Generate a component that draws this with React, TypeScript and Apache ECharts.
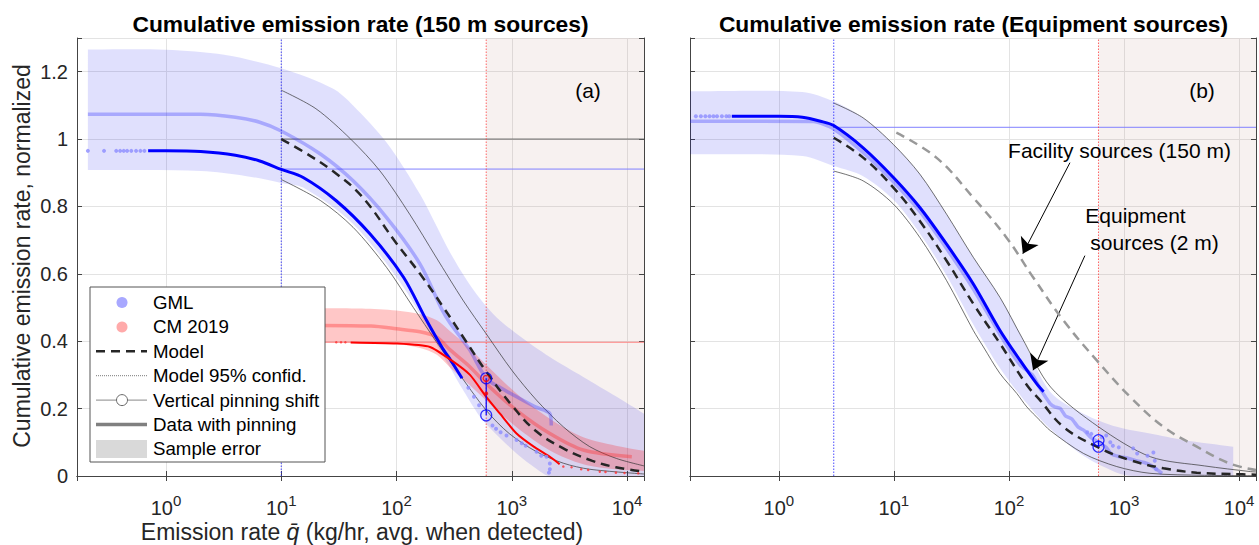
import React, { useEffect, useRef } from "react";
import * as echarts from "echarts";

type P = [number, number];

// ---------- axes ----------
const X_MIN = 0.169;
const X_MAX = 14030;
const Y_MAX = 1.3;
const Y_STEP = 0.2;
const X_DECADES = [0, 1, 2, 3, 4];
const PIN_Q = 600;

const titles = [
  "Cumulative emission rate (150 m sources)",
  "Cumulative emission rate (Equipment sources)",
];
const panelTags = ["(a)", "(b)"];
const yLabel = "Cumulative emission rate, normalized";
const legendLabels = [
  "GML",
  "CM 2019",
  "Model",
  "Model 95% confid.",
  "Vertical pinning shift",
  "Data with pinning",
  "Sample error",
];

// ---------- panel (a): 150 m sources ----------
const bandA_hi: P[] = [[0.21, 1.266], [1, 1.265], [3.2, 1.25], [10, 1.21], [28, 1.15], [42, 1.1], [82, 0.99], [160, 0.836], [290, 0.665], [448, 0.56], [690, 0.481], [1100, 0.422], [2140, 0.353], [4170, 0.294], [8130, 0.235], [14030, 0.185]];
const bandA_lo: P[] = [[0.21, 0.908], [2, 0.905], [5, 0.89], [10, 0.87], [15.5, 0.856], [42, 0.748], [115, 0.56], [220, 0.393], [290, 0.323], [380, 0.254], [560, 0.166], [1100, 0.067], [1860, 0.008], [2100, 0], [14030, 0]];
const modelA: P[] = [[10, 1.0], [16, 0.96], [28, 0.905], [50, 0.83], [100, 0.69], [160, 0.6], [250, 0.505], [400, 0.4], [600, 0.31], [1000, 0.21], [1600, 0.135], [2800, 0.082], [5000, 0.045], [8000, 0.026], [14030, 0.013]];
const confHiA: P[] = [[10, 1.145], [20, 1.09], [40, 1.0], [72, 0.905], [130, 0.777], [220, 0.65], [380, 0.52], [600, 0.422], [1000, 0.314], [1640, 0.225], [2800, 0.146], [4750, 0.087], [8100, 0.052], [14030, 0.03]];
const confLoA: P[] = [[10, 0.88], [22, 0.817], [42, 0.738], [82, 0.619], [140, 0.5], [220, 0.4], [330, 0.315], [600, 0.195], [950, 0.126], [1640, 0.072], [2800, 0.038], [4750, 0.02], [14030, 0.006]];
const gmlA: P[] = [[0.7, 0.965], [1, 0.965], [2, 0.963], [4, 0.952], [6.5, 0.935], [10, 0.91], [15.5, 0.886], [30, 0.817], [59, 0.718], [115, 0.59], [182, 0.462], [250, 0.38], [300, 0.34], [370, 0.29]];
const gmlDotsA: P[] = [[0.21, 0.965], [0.29, 0.965], [0.37, 0.965], [0.4, 0.965], [0.43, 0.965], [0.46, 0.965], [0.5, 0.965], [0.55, 0.965], [0.6, 0.965], [0.65, 0.965], [420, 0.262], [470, 0.235], [520, 0.21], [680, 0.15], [730, 0.14], [800, 0.13], [900, 0.12], [1100, 0.107], [1220, 0.097], [1320, 0.09], [1640, 0.072], [1800, 0.06], [2000, 0.057], [2140, 0.037], [2140, 0.02], [2100, 0.01]];
const gmlPinA: P[] = [[0.21, 1.074], [2, 1.074], [4, 1.065], [6.5, 1.05], [10, 1.024], [22, 0.955], [42, 0.876], [82, 0.767], [160, 0.629], [250, 0.491], [290, 0.455], [430, 0.375], [600, 0.29], [800, 0.262], [1100, 0.235], [1600, 0.205], [2140, 0.185], [2200, 0.15]];
const cmBandA_hi: P[] = [[22, 0.498], [50, 0.497], [100, 0.491], [160, 0.48], [224, 0.462], [290, 0.43], [430, 0.38], [600, 0.33], [1100, 0.245], [2140, 0.17], [4170, 0.115], [8000, 0.09], [14030, 0.075]];
const cmBandA_lo: P[] = [[22, 0.397], [50, 0.396], [100, 0.392], [160, 0.38], [224, 0.36], [290, 0.323], [430, 0.27], [600, 0.224], [1100, 0.145], [2140, 0.076], [4170, 0.035], [8000, 0.02], [14030, 0.015]];
const cmPinA: P[] = [[22, 0.447], [60, 0.445], [100, 0.437], [160, 0.428], [224, 0.412], [290, 0.375], [430, 0.325], [600, 0.274], [1100, 0.195], [2140, 0.126], [4170, 0.077], [11000, 0.057]];
const cmA: P[] = [[40, 0.396], [100, 0.393], [195, 0.383], [300, 0.343], [434, 0.3], [600, 0.235], [790, 0.185], [1100, 0.126], [1550, 0.087], [2140, 0.057], [2600, 0.035]];
const cmDotsA: P[] = [[30, 0.397], [33, 0.397], [36, 0.397], [2800, 0.028], [3300, 0.026], [4000, 0.02], [4600, 0.018], [5800, 0.013], [6500, 0.012], [8000, 0.01], [9500, 0.009], [12500, 0.008]];
const pinA = { lo: 0.18, hi: 0.29, cm: 0.245 };
const refLevelsA = { model: 1.0, gml: 0.911, cm: 0.397, cutGml: 10, cutCm: 22 };

// ---------- panel (b): equipment sources ----------
const bandB_hi: P[] = [[0.169, 1.142], [1.6, 1.14], [3, 1.112], [5.4, 1.063], [9.9, 0.984], [16.8, 0.896], [28.7, 0.777], [49, 0.649], [83.6, 0.53], [130, 0.41], [228, 0.25], [444, 0.185], [865, 0.146], [1680, 0.126], [3280, 0.107], [8900, 0.087]];
const bandB_lo: P[] = [[0.169, 0.955], [1.6, 0.95], [3, 0.92], [5.4, 0.89], [9.9, 0.82], [16.8, 0.72], [28.7, 0.595], [49, 0.45], [83.6, 0.32], [143, 0.215], [228, 0.14], [444, 0.06], [865, 0.01], [1200, 0], [8900, 0]];
const modelB: P[] = [[3, 1.004], [5.4, 0.945], [9.9, 0.856], [16.8, 0.757], [28.7, 0.639], [49, 0.511], [83.6, 0.393], [143, 0.27], [186, 0.225], [297, 0.146], [580, 0.087], [1130, 0.047], [2200, 0.023], [4290, 0.01], [10700, 0.005], [14030, 0.004]];
const confHiB: P[] = [[3, 1.107], [5.4, 1.063], [9.9, 0.984], [16.8, 0.896], [28.7, 0.777], [49, 0.649], [83.6, 0.53], [130, 0.41], [230, 0.264], [600, 0.146], [1700, 0.057], [5000, 0.03], [12600, 0.013], [14030, 0.012]];
const confLoB: P[] = [[3, 0.905], [5.4, 0.876], [9.9, 0.807], [16.8, 0.708], [28.7, 0.58], [49, 0.432], [60, 0.383], [83.6, 0.304], [117, 0.245], [143, 0.205], [186, 0.165], [228, 0.135], [444, 0.067], [865, 0.028], [1680, 0.008], [5000, 0.002], [14030, 0.001]];
const gmlB: P[] = [[0.39, 1.068], [1, 1.068], [1.6, 1.065], [2.3, 1.053], [3, 1.04], [5.4, 0.974], [9.9, 0.886], [16.8, 0.797], [28.7, 0.688], [49, 0.57], [83.6, 0.432], [125, 0.343], [174, 0.274], [200, 0.25]];
const gmlDotsB: P[] = [[0.19, 1.068], [0.21, 1.068], [0.23, 1.068], [0.25, 1.068], [0.27, 1.068], [0.29, 1.068], [0.32, 1.068], [0.35, 1.068], [0.37, 1.068], [480, 0.13], [520, 0.125], [640, 0.115], [700, 0.12], [760, 0.1], [800, 0.09], [900, 0.085], [1200, 0.082], [1300, 0.067], [1600, 0.06], [1800, 0.07], [1850, 0.045], [1900, 0.02]];
const gmlPinB: P[] = [[0.169, 1.053], [2, 1.052], [3, 1.03], [5.4, 0.96], [9.9, 0.873], [16.8, 0.785], [28.7, 0.675], [49, 0.555], [83.6, 0.42], [125, 0.33], [160, 0.3], [186, 0.26], [228, 0.215], [250, 0.205], [280, 0.2], [310, 0.178], [350, 0.17], [400, 0.145], [450, 0.135], [520, 0.113], [600, 0.1], [700, 0.085], [780, 0.065], [900, 0.058], [1100, 0.052], [1300, 0.045], [1500, 0.04], [1750, 0.03], [2140, 0.008]];
const facilityB: P[] = [[10.5, 1.019], [23.4, 0.945], [49, 0.826], [95, 0.708], [162, 0.59], [297, 0.462], [580, 0.343], [1130, 0.235], [2200, 0.146], [4290, 0.087], [8300, 0.037], [14030, 0.018]];
const pinB = { lo: 0.087, hi: 0.106 };
const refLevelsB = { gml: 1.035, cut: 3 };
const arrowsB: [P, P][] = [
  [[339, 0.93], [132, 0.66]],
  [[457, 0.654], [162, 0.314]],
];

// ---------- styles ----------
const FF = "'Liberation Sans', Arial, Helvetica, sans-serif";
const AX = "#444444";
const GRID = "#e3e3e3";
const TXT = "#262626";
const SHADE = "rgba(190,140,130,0.12)";
const BLUE_BAND = "rgba(0,0,235,0.12)";
const RED_BAND = "rgba(255,0,0,0.22)";
const LIGHT_BLUE = "rgba(40,40,255,0.30)";
const LIGHT_RED = "rgba(255,50,50,0.38)";

function buildOption() {
  const series: any[] = [];
  const ax = (gi: number) => ({ xAxisIndex: gi * 2, yAxisIndex: gi * 2 });

  const poly = (gi: number, hi: P[], lo: P[], fill: string, z: number, smooth = 0.3) => {
    series.push({
      type: "custom",
      ...ax(gi),
      clip: true,
      silent: true,
      z,
      data: [hi[0]],
      renderItem: (_p: any, api: any) => {
        const top = hi.map((p) => api.coord(p));
        const bot = lo.slice().reverse().map((p) => api.coord(p));
        const pts = [top[0], ...top, top[top.length - 1], bot[0], ...bot, bot[bot.length - 1]];
        return { type: "polygon", shape: { points: pts, smooth }, style: { fill, stroke: "none" } };
      },
    });
  };
  const line = (gi: number, data: P[], color: string, width: number, type: any = "solid", smooth: number | boolean = false, z = 3, extra: any = {}) => {
    series.push({
      type: "line",
      ...ax(gi),
      data,
      symbol: "none",
      showSymbol: false,
      smooth,
      silent: true,
      z,
      lineStyle: { color, width, type, cap: "butt" },
      ...extra,
    });
  };
  const dots = (gi: number, data: P[], color: string, size: number, z = 6) => {
    series.push({ type: "scatter", ...ax(gi), data, symbol: "circle", symbolSize: size, itemStyle: { color }, silent: true, z });
  };
  const rings = (gi: number, data: P[], color: string, size: number, z = 8) => {
    series.push({
      type: "scatter", ...ax(gi), data, symbol: "circle", symbolSize: size, silent: true, z,
      itemStyle: { color: "rgba(0,0,0,0)", borderColor: color, borderWidth: 1.2 },
    });
  };

  // ----- panel a -----
  poly(0, [[PIN_Q, Y_MAX], [X_MAX, Y_MAX]], [[PIN_Q, 0], [X_MAX, 0]], SHADE, 0, 0);
  poly(0, bandA_hi, bandA_lo, BLUE_BAND, 1);
  poly(0, cmBandA_hi, cmBandA_lo, RED_BAND, 1);
  line(0, [[refLevelsA.cutGml, refLevelsA.model], [X_MAX, refLevelsA.model]], "#666666", 1);
  line(0, [[refLevelsA.cutGml, refLevelsA.gml], [X_MAX, refLevelsA.gml]], "#8080ff", 1);
  line(0, [[refLevelsA.cutCm, refLevelsA.cm], [X_MAX, refLevelsA.cm]], "#ff8080", 1);
  line(0, [[refLevelsA.cutGml, 0], [refLevelsA.cutGml, Y_MAX]], "#2020ff", 0.8, [1.5, 1.5]);
  line(0, [[PIN_Q, 0], [PIN_Q, Y_MAX]], "#ff4040", 0.8, [1.5, 1.5]);
  line(0, confHiA, "#333333", 0.7, "solid", 0.3);
  line(0, confLoA, "#333333", 0.7, "solid", 0.3);
  line(0, gmlPinA, LIGHT_BLUE, 3.5, "solid", 0.3);
  line(0, cmPinA, LIGHT_RED, 3.5, "solid", 0.3);
  line(0, gmlA, "#0000ff", 3, "solid", 0.3, 4);
  line(0, cmA, "#ff0000", 2, "solid", 0.2, 4);
  line(0, modelA, "#262626", 2.5, [9, 6], 0.4, 5);
  dots(0, gmlDotsA, "#8c8cff", 4);
  dots(0, cmDotsA, "#ff3030", 2.5);
  line(0, [[PIN_Q, pinA.lo], [PIN_Q, pinA.hi]], "#0000ff", 1.2, "solid", false, 7);
  rings(0, [[PIN_Q, pinA.lo], [PIN_Q, pinA.hi]], "#0000ff", 11);
  rings(0, [[PIN_Q, pinA.hi]], "#ff0000", 6);
  dots(0, [[PIN_Q, pinA.cm]], "#ff0000", 4, 8);

  // ----- panel b -----
  poly(1, [[PIN_Q, Y_MAX], [X_MAX, Y_MAX]], [[PIN_Q, 0], [X_MAX, 0]], SHADE, 0, 0);
  poly(1, bandB_hi, bandB_lo, BLUE_BAND, 1);
  line(1, [[refLevelsB.cut, refLevelsB.gml], [X_MAX, refLevelsB.gml]], "#8080ff", 1, "solid", false, 3, {
    markLine: {
      silent: true,
      symbol: ["none", "arrow"],
      symbolSize: 15,
      label: { show: false },
      lineStyle: { color: "#000000", width: 1, type: "solid" },
      emphasis: { disabled: true },
      data: arrowsB.map(([a, b]) => [{ coord: a }, { coord: b }]),
    },
  });
  line(1, [[refLevelsB.cut, 0], [refLevelsB.cut, Y_MAX]], "#2020ff", 0.8, [1.5, 1.5]);
  line(1, [[PIN_Q, 0], [PIN_Q, Y_MAX]], "#ff4040", 0.8, [1.5, 1.5]);
  line(1, confHiB, "#333333", 0.7, "solid", 0.3);
  line(1, confLoB, "#333333", 0.7, "solid", 0.3);
  line(1, facilityB, "#999999", 2.5, [9, 6], 0.4, 5);
  line(1, gmlPinB, LIGHT_BLUE, 3.5, "solid", 0.2);
  line(1, gmlB, "#0000ff", 3, "solid", 0.3, 4);
  line(1, modelB, "#262626", 2.5, [9, 6], 0.4, 5);
  dots(1, gmlDotsB, "#8c8cff", 4);
  line(1, [[PIN_Q, pinB.lo], [PIN_Q, pinB.hi]], "#0000ff", 1.2, "solid", false, 7);
  rings(1, [[PIN_Q, pinB.lo], [PIN_Q, pinB.hi]], "#0000ff", 11);

  const xFmt = (v: number) => {
    const e = Math.log10(v);
    const r = Math.round(e);
    return Math.abs(e - r) < 1e-6 && X_DECADES.includes(r) ? `{b|10}{s|${r}}` : "";
  };
  const xAxes: any[] = [];
  const yAxes: any[] = [];
  for (let gi = 0; gi < 2; gi++) {
    xAxes.push({
      type: "log", logBase: 10, gridIndex: gi, min: X_MIN, max: X_MAX, position: "bottom",
      axisLine: { show: true, lineStyle: { color: AX, width: 1 } },
      axisTick: { show: true, inside: true, length: 5, lineStyle: { color: AX } },
      axisLabel: {
        show: true, margin: 17, formatter: xFmt,
        rich: {
          b: { fontSize: 20, color: TXT, fontFamily: FF },
          s: { fontSize: 15, color: TXT, fontFamily: FF, padding: [0, 0, 14, 0] },
        },
      },
      splitLine: { show: true, lineStyle: { color: GRID, width: 1 } },
    });
    xAxes.push({
      type: "log", logBase: 10, gridIndex: gi, min: X_MIN, max: X_MAX, position: "top",
      axisLine: { show: true, lineStyle: { color: AX, width: 1 } },
      axisTick: { show: true, inside: true, length: 5, lineStyle: { color: AX } },
      axisLabel: { show: false },
      splitLine: { show: false },
    });
    yAxes.push({
      type: "value", gridIndex: gi, min: 0, max: Y_MAX, interval: Y_STEP, position: "left",
      axisLine: { show: true, lineStyle: { color: AX, width: 1 } },
      axisTick: { show: true, inside: true, length: 5, lineStyle: { color: AX } },
      axisLabel: gi === 0
        ? { show: true, margin: 9, fontSize: 20, color: TXT, fontFamily: FF, formatter: (v: number) => (v > 1.25 ? "" : String(+v.toFixed(1))) }
        : { show: false },
      splitLine: { show: true, lineStyle: { color: GRID, width: 1 } },
    });
    yAxes.push({
      type: "value", gridIndex: gi, min: 0, max: Y_MAX, interval: Y_STEP, position: "right",
      axisLine: { show: true, lineStyle: { color: AX, width: 1 } },
      axisTick: { show: true, inside: true, length: 5, lineStyle: { color: AX } },
      axisLabel: { show: false },
      splitLine: { show: false },
    });
  }

  const txt = (text: string, x: number, y: number, fontSize: number, extra: any = {}, elExtra: any = {}) => ({
    type: "text", x, y, z: 100, silent: true, ...elExtra,
    style: { text, fontSize, fontFamily: FF, fill: extra.fill || "#000000", align: "center", verticalAlign: "middle", ...extra },
  });

  // legend
  const LX = 90, LY = 287, LW = 235, LH = 175;
  const rowY = (i: number) => 302.5 + i * 24.4;
  const legend: any[] = [
    { type: "rect", z: 100, silent: true, shape: { x: LX, y: LY, width: LW, height: LH }, style: { fill: "#ffffff", stroke: "#555555", lineWidth: 1 } },
    { type: "circle", z: 101, silent: true, shape: { cx: 122, cy: rowY(0), r: 5.5 }, style: { fill: "#a8a8ff" } },
    { type: "circle", z: 101, silent: true, shape: { cx: 122, cy: rowY(1), r: 5.5 }, style: { fill: "#ffaaaa" } },
    { type: "line", z: 101, silent: true, shape: { x1: 96, y1: rowY(2), x2: 147, y2: rowY(2) }, style: { stroke: "#262626", lineWidth: 2.5, lineDash: [9, 6] } },
    { type: "line", z: 101, silent: true, shape: { x1: 96, y1: rowY(3), x2: 147, y2: rowY(3) }, style: { stroke: "#555555", lineWidth: 0.8, lineDash: [1, 1] } },
    { type: "line", z: 101, silent: true, shape: { x1: 96, y1: rowY(4), x2: 147, y2: rowY(4) }, style: { stroke: "#888888", lineWidth: 1 } },
    { type: "circle", z: 102, silent: true, shape: { cx: 122, cy: rowY(4), r: 5.5 }, style: { fill: "#ffffff", stroke: "#666666", lineWidth: 1 } },
    { type: "line", z: 101, silent: true, shape: { x1: 96, y1: rowY(5), x2: 147, y2: rowY(5) }, style: { stroke: "#808080", lineWidth: 3.5 } },
    { type: "rect", z: 101, silent: true, shape: { x: 96, y: rowY(6) - 9, width: 51, height: 18 }, style: { fill: "#d9d9d9" } },
    ...legendLabels.map((l, i) => txt(l, 153, rowY(i), 18.7, { align: "left", fill: "#000000" }, { z: 102 })),
  ];

  const graphic: any[] = [
    txt(titles[0], 360.5, 23.5, 22.8, { fontWeight: "bold" }),
    txt(titles[1], 973.5, 23.5, 22.8, { fontWeight: "bold" }),
    txt(panelTags[0], 588, 90.5, 21),
    txt(panelTags[1], 1202, 90.5, 21),
    txt(yLabel, 21.5, 256, 23, { fill: TXT }, { rotation: Math.PI / 2 }),
    {
      type: "text", x: 362, y: 532, z: 100, silent: true,
      style: {
        text: "{n|Emission rate }{i|q\u0304}{n| (kg/hr, avg. when detected)}",
        align: "center", verticalAlign: "middle", fill: TXT,
        rich: {
          n: { fontSize: 23, fontFamily: FF, fill: TXT },
          i: { fontSize: 23, fontFamily: FF, fontStyle: "italic", fill: TXT },
        },
      },
    },
    txt("Facility sources (150 m)", 1119.5, 150, 21),
    txt("Equipment", 1135.5, 215, 21),
    txt("sources (2 m)", 1154.5, 242.5, 21),
    ...legend,
  ];

  return {
    animation: false,
    backgroundColor: "#ffffff",
    grid: [
      { left: 77, top: 38, width: 567, height: 438 },
      { left: 690, top: 38, width: 567, height: 438 },
    ],
    xAxis: xAxes,
    yAxis: yAxes,
    series,
    graphic,
  };
}

export default function App() {
  const ref = useRef<HTMLDivElement>(null);
  useEffect(() => {
    const chart = echarts.init(ref.current!, null, { renderer: "svg" });
    chart.setOption(buildOption());
    return () => chart.dispose();
  }, []);
  return <div ref={ref} style={{ position: "absolute", left: 0, top: 0, width: 1259, height: 545 }} />;
}
